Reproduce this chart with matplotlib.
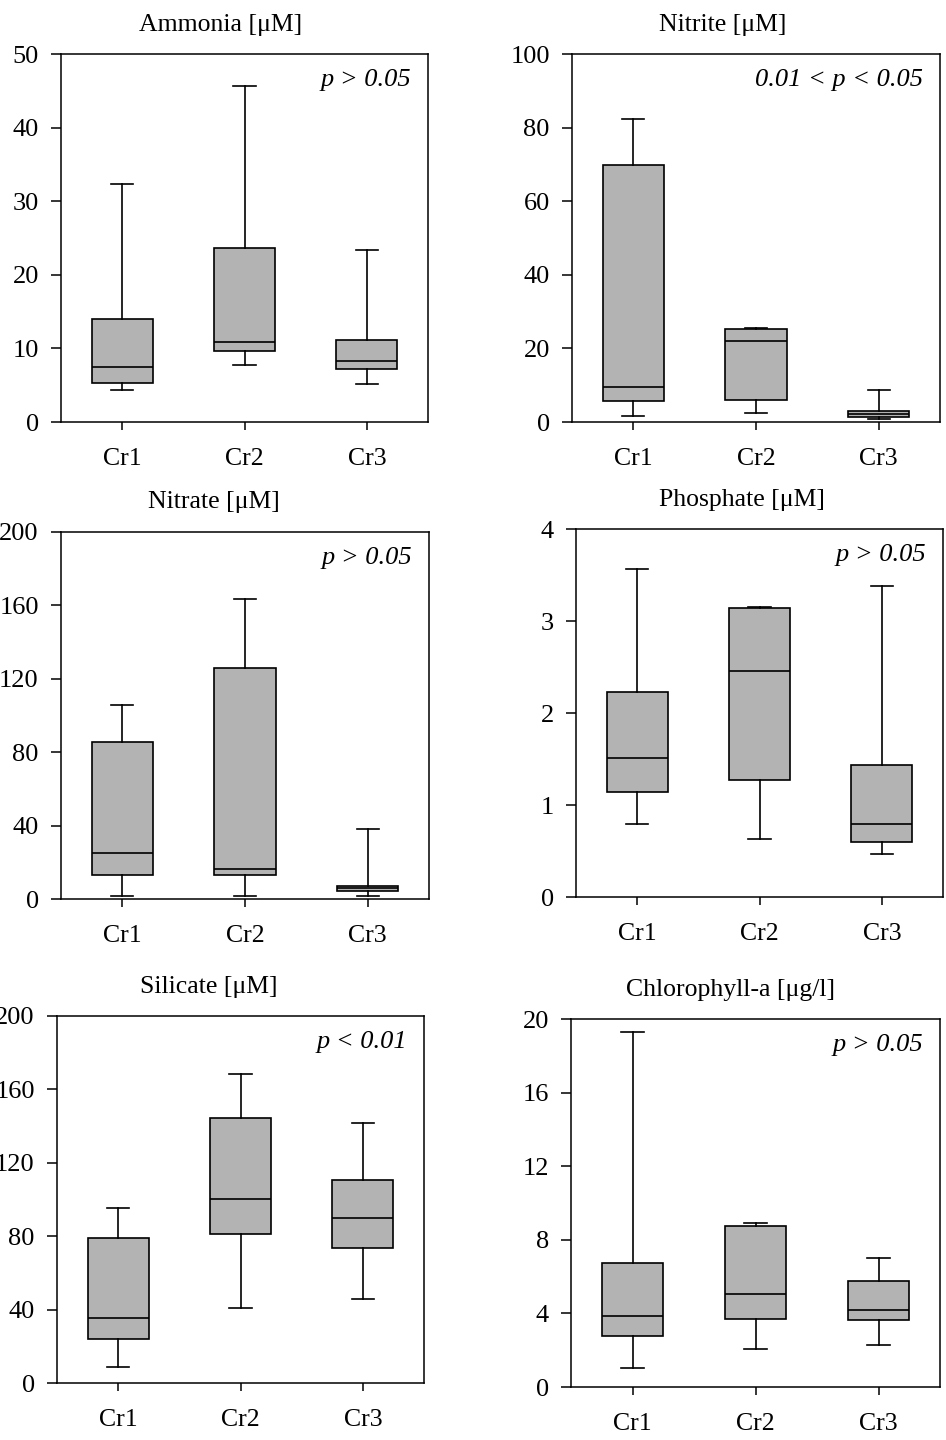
import matplotlib
matplotlib.use("Agg")
import matplotlib.pyplot as plt

plt.rcParams['font.family'] = ['Liberation Serif', 'DejaVu Serif']
plt.rcParams['font.size'] = 17

sites = ['Cr1', 'Cr2', 'Cr3']

# box stats per site: (whisker low, Q1, median, Q3, whisker high)
ammonia = [(4.4, 5.35, 7.5, 14.05, 32.3), (7.7, 9.65, 10.9, 23.7, 45.7), (5.2, 7.15, 8.3, 11.2, 23.35)]
nitrite = [(1.5, 5.7, 9.5, 69.8, 82.3), (2.4, 6.1, 21.9, 25.2, 25.5), (0.9, 1.4, 2.1, 2.9, 8.8)]
nitrate = [(1.6, 13.1, 24.9, 85.7, 105.6), (1.6, 13.1, 16.3, 126.0, 163.7), (1.8, 4.4, 5.8, 7.1, 38.1)]
phosphate = [(0.79, 1.14, 1.51, 2.23, 3.56), (0.63, 1.27, 2.46, 3.14, 3.15), (0.47, 0.60, 0.79, 1.43, 3.38)]
silicate = [(8.7, 23.8, 35.4, 78.8, 95.3), (40.7, 81.1, 100.2, 144.5, 168.2), (45.9, 73.3, 90.0, 110.7, 141.7)]
chla = [(1.03, 2.78, 3.85, 6.75, 19.27), (2.07, 3.67, 5.08, 8.75, 8.91), (2.30, 3.63, 4.16, 5.77, 7.02)]

titles = ['Ammonia [μM]', 'Nitrite [μM]', 'Nitrate [μM]', 'Phosphate [μM]', 'Silicate [μM]', 'Chlorophyll-a [μg/l]']
pvals = ['p > 0.05', '0.01 < p < 0.05', 'p > 0.05', 'p > 0.05', 'p < 0.01', 'p > 0.05']
ymax = [50, 100, 200, 4, 200, 20]
ystep = [10, 20, 40, 1, 40, 4]
datasets = [ammonia, nitrite, nitrate, phosphate, silicate, chla]

W, H = 946, 1440
# axes boxes in pixels: left, right, top, bottom
boxes = [(61, 428, 54, 422), (572, 940, 54, 422),
         (61, 429, 532, 899), (576, 943, 529, 897),
         (57, 424, 1016, 1383), (571, 940, 1019, 1387)]
title_pos = [(221, 25), (723, 25), (214, 502), (742, 500), (209, 987), (730, 990)]

fig = plt.figure(figsize=(W / 100, H / 100), dpi=100)

for i, data in enumerate(datasets):
    l, r, t, b = boxes[i]
    ax = fig.add_axes([l / W, 1 - b / H, (r - l) / W, (b - t) / H])
    stats = []
    for site, (lo, q1, med, q3, hi) in zip(sites, data):
        stats.append(dict(label=site, whislo=lo, q1=q1, med=med, q3=q3, whishi=hi, fliers=[]))
    ax.bxp(stats, positions=[0.5, 1.5, 2.5], widths=0.5, capwidths=0.18,
           patch_artist=True, showfliers=False,
           boxprops=dict(facecolor='#b3b3b3', edgecolor='black', linewidth=1.2),
           medianprops=dict(color='black', linewidth=1.2),
           whiskerprops=dict(color='black', linewidth=1.2),
           capprops=dict(color='black', linewidth=1.2))
    ax.set_xlim(0, 3)
    ax.set_ylim(0, ymax[i])
    ax.set_yticks([ystep[i] * k for k in range(int(round(ymax[i] / ystep[i])) + 1)])
    ax.set_xticks([0.5, 1.5, 2.5])
    ax.set_xticklabels(sites)
    ax.tick_params(axis='y', direction='out', length=7, width=1.1, pad=9, labelsize=19)
    ax.tick_params(axis='x', direction='out', length=6, width=1.1, pad=13, labelsize=18.5)
    for sp in ax.spines.values():
        sp.set_linewidth(1.1)
    ax.text(0.955, 0.93, pvals[i], transform=ax.transAxes, ha='right', va='center',
            style='italic', fontsize=19)
    fig.text(title_pos[i][0] / W, 1 - title_pos[i][1] / H, titles[i],
             ha='center', va='center', fontsize=18.5)

fig.savefig('out.png', dpi=100)
